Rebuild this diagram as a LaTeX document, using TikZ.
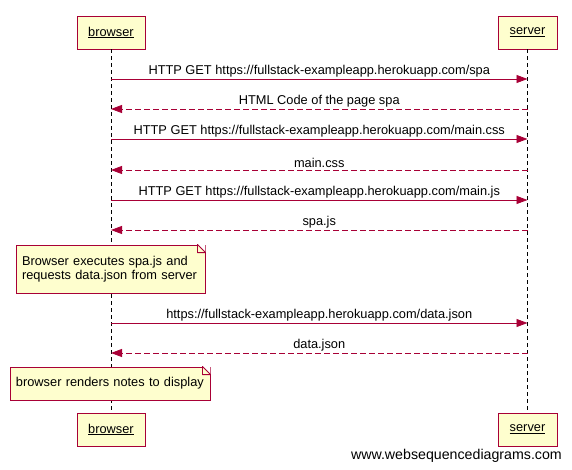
\documentclass[tikz,border=0pt]{standalone}
\usepackage{fontspec}
\setmainfont{Liberation Sans}
\usetikzlibrary{arrows.meta, calc}

\definecolor{wsdred}{RGB}{168,0,54}
\definecolor{wsdfill}{RGB}{254,254,206}

\tikzset{
	actor/.style={draw=wsdred, fill=wsdfill, line width=0.9pt, minimum height=33, font=\fontsize{12.8}{14}\selectfont},
	note/.style={draw=wsdred, fill=wsdfill, line width=0.9pt, align=left, inner xsep=6, font=\fontsize{12.8}{14.5}\selectfont},
	lifeline/.style={draw=black, line width=0.8pt, dash pattern=on 4pt off 3pt},
	msg/.style={draw=wsdred, line width=0.8pt, -{Triangle[length=11pt, width=8pt]}},
	reply/.style={msg, dash pattern=on 6pt off 3pt},
	lbl/.style={above, inner sep=1.5pt, text=black, font=\fontsize{12.8}{14}\selectfont}
}

\begin{document}
\begin{tikzpicture}[x=1pt, y=-1pt]
	\useasboundingbox (0,0) rectangle (572,470);
	% participants
	\node[actor, minimum width=68] (bt) at (111,32.5) {\underline{browser}};
	\node[actor, minimum width=59] (st) at (527.5,32.5) {\underline{server}};
	\node[actor, minimum width=68] (bb) at (111,429.5) {\underline{browser}};
	\node[actor, minimum width=59] (sb) at (527.5,429.5) {\underline{server}};
	\draw[lifeline] (bt) -- (bb);
	\draw[lifeline] (st) -- (sb);
	% message heights on the lifelines
	\foreach \i/\y in {1/79, 2/109, 3/139, 4/170, 5/200, 6/230, 7/323, 8/353} {
		\coordinate (b\i) at (bt |- 0,\y);
		\coordinate (s\i) at (st |- 0,\y);
	}
	\draw[msg] (b1) -- node[lbl] {HTTP GET https://fullstack-exampleapp.herokuapp.com/spa} (s1);
	\draw[reply] (s2) -- node[lbl] {HTML Code of the page spa} (b2);
	\draw[msg] (b3) -- node[lbl] {HTTP GET https://fullstack-exampleapp.herokuapp.com/main.css} (s3);
	\draw[reply] (s4) -- node[lbl] {main.css} (b4);
	\draw[msg] (b5) -- node[lbl] {HTTP GET https://fullstack-exampleapp.herokuapp.com/main.js} (s5);
	\draw[reply] (s6) -- node[lbl] {spa.js} (b6);
	% note 1
	\node[note, text width=177, minimum height=48] (n1) at (110.5,269) {Browser executes spa.js and\\requests data.json from server};
	\fill[white] (n1.north east) -- ++(-8,0) -- ++(8,8) -- cycle;
	\draw[wsdred, line width=0.9pt, line join=round] ($(n1.north east)+(-8,0)$) -- ++(8,8) -- ++(-8,0) -- cycle;
	\draw[msg] (b7) -- node[lbl] {https://fullstack-exampleapp.herokuapp.com/data.json} (s7);
	\draw[reply] (s8) -- node[lbl] {data.json} (b8);
	% note 2
	\node[note, text width=188, minimum height=33] (n2) at (110,383.5) {browser renders notes to display};
	\fill[white] (n2.north east) -- ++(-8,0) -- ++(8,8) -- cycle;
	\draw[wsdred, line width=0.9pt, line join=round] ($(n2.north east)+(-8,0)$) -- ++(8,8) -- ++(-8,0) -- cycle;
	% footer
	\node[anchor=east, inner sep=0, font=\fontsize{14.2}{16}\selectfont] (wsd) at (562,456) {www.websequencediagrams.com};
\end{tikzpicture}
\end{document}
